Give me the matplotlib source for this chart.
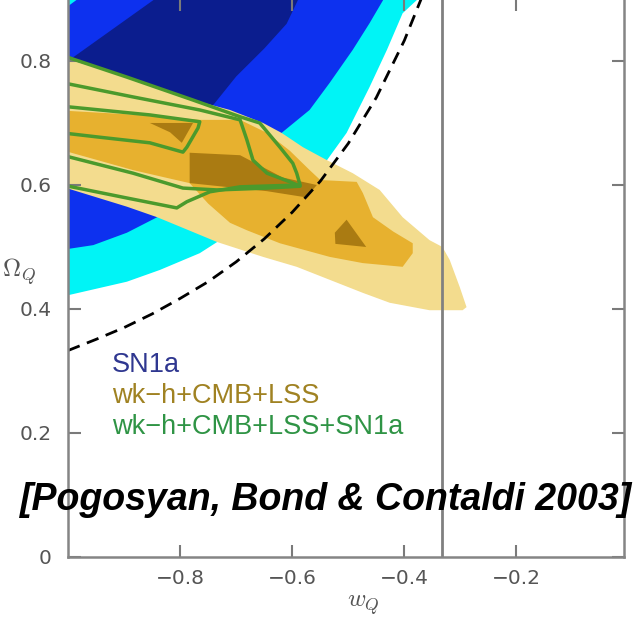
import matplotlib.pyplot as plt

# SN1a likelihood regions (w_Q, Omega_Q outlines), outermost first
sn3_w = [-1.05, -0.372, -0.372, -0.378, -0.403, -0.431, -0.462, -0.503, -0.538, -0.58, -0.64,
         -0.734, -0.765, -0.836, -0.895, -0.996, -1.05]
sn3_om = [0.95, 0.95, 0.91, 0.898, 0.877, 0.818, 0.758, 0.684, 0.640, 0.60, 0.568,
          0.508, 0.490, 0.463, 0.444, 0.423, 0.415]

sn2_w = [-1.05, -1.05, -0.975, -0.95, -0.438, -0.438, -0.462, -0.492, -0.533, -0.569, -0.619,
         -0.729, -0.841, -0.895, -0.955, -1.05]
sn2_om = [0.49, 0.855, 0.905, 0.95, 0.95, 0.898, 0.861, 0.818, 0.765, 0.721, 0.684,
          0.608, 0.548, 0.523, 0.503, 0.49]

sn1_w = [-1.0, -0.848, -0.77, -0.59, -0.59, -0.61, -0.65, -0.70, -0.74, -0.78, -0.90, -1.0]
sn1_om = [0.80, 0.898, 0.95, 0.95, 0.898, 0.86, 0.82, 0.775, 0.73, 0.70, 0.66, 0.66]

# wk-h+CMB+LSS regions
lss3_w = [-1.01, -0.895, -0.836, -0.777, -0.711, -0.652, -0.619, -0.581, -0.538, -0.492, -0.444,
          -0.403, -0.355, -0.332, -0.319, -0.301, -0.289, -0.296, -0.355, -0.426, -0.474,
          -0.533, -0.592, -0.652, -0.734, -0.841, -0.895, -1.01]
lss3_om = [0.806, 0.774, 0.756, 0.737, 0.721, 0.700, 0.684, 0.661, 0.640, 0.619, 0.592,
           0.548, 0.511, 0.50, 0.479, 0.435, 0.403, 0.398, 0.398, 0.41, 0.426,
           0.447, 0.468, 0.484, 0.508, 0.548, 0.565, 0.597]

lss2_w = [-1.01, -0.854, -0.765, -0.693, -0.645, -0.604, -0.57, -0.55, -0.485, -0.474, -0.456,
          -0.42, -0.385, -0.385, -0.403, -0.474, -0.533, -0.622, -0.681, -0.711, -0.75,
          -0.783, -0.884, -1.01]
lss2_om = [0.72, 0.712, 0.705, 0.705, 0.684, 0.655, 0.625, 0.608, 0.605, 0.587, 0.548,
           0.525, 0.506, 0.49, 0.468, 0.474, 0.484, 0.506, 0.527, 0.539, 0.57,
           0.603, 0.624, 0.656]

lss1a_w = [-0.854, -0.777, -0.797, -0.818]
lss1a_om = [0.70, 0.70, 0.668, 0.685]
lss1b_w = [-0.783, -0.693, -0.617, -0.556, -0.575, -0.645, -0.783]
lss1b_om = [0.652, 0.648, 0.612, 0.60, 0.58, 0.59, 0.603]
lss1c_w = [-0.503, -0.468, -0.523, -0.524]
lss1c_om = [0.544, 0.50, 0.505, 0.523]

# wk-h+CMB+LSS+SN1a contours
all1_w = [-1.01, -0.854, -0.765, -0.768, -0.788, -0.795, -0.854, -0.943, -1.01]
all1_om = [0.727, 0.713, 0.702, 0.692, 0.661, 0.653, 0.668, 0.677, 0.684]
all2_w = [-1.01, -0.884, -0.765, -0.693, -0.681, -0.670, -0.645, -0.604, -0.586,
          -0.645, -0.734, -0.795, -0.884, -1.01]
all2_om = [0.765, 0.742, 0.721, 0.705, 0.673, 0.640, 0.619, 0.605, 0.598,
           0.595, 0.592, 0.595, 0.619, 0.648]
all3_w = [-1.0, -0.991, -0.895, -0.777, -0.693, -0.658, -0.622, -0.599, -0.592, -0.586,
          -0.693, -0.747, -0.788, -0.806, -0.895, -1.01]
all3_om = [0.806, 0.803, 0.774, 0.737, 0.71, 0.70, 0.661, 0.635, 0.619, 0.60,
           0.597, 0.589, 0.573, 0.563, 0.579, 0.60]

# q0 = 0 boundary
q0_w = [-1.0, -0.95, -0.9, -0.85, -0.8, -0.75, -0.7, -0.65, -0.6, -0.55, -0.5, -0.45, -0.4, -0.37]
q0_om = [0.333, 0.351, 0.370, 0.392, 0.417, 0.444, 0.476, 0.513, 0.556, 0.606, 0.667, 0.741, 0.833, 0.90]
w_accel = -1 / 3

labels = ['SN1a', 'wk\u2212h+CMB+LSS', 'wk\u2212h+CMB+LSS+SN1a']
label_colors = ['#2f3790', '#a08222', '#2f9445']

fig = plt.figure(figsize=(6.34, 6.29), dpi=100)
ax = fig.add_axes([0.1073, 0.1145, 0.877, 0.8887])

ax.fill(sn3_w, sn3_om, color='#00f4f6', lw=0)
ax.fill(sn2_w, sn2_om, color='#0d31ef', lw=0)
ax.fill(sn1_w, sn1_om, color='#0b1d8e', lw=0)

ax.fill(lss3_w, lss3_om, color='#f3dc8e', lw=0)
ax.fill(lss2_w, lss2_om, color='#e7b12f', lw=0)
for w, om in [(lss1a_w, lss1a_om), (lss1b_w, lss1b_om), (lss1c_w, lss1c_om)]:
    ax.fill(w, om, color='#aa7b12', lw=0)

for w, om in [(all1_w, all1_om), (all2_w, all2_om), (all3_w, all3_om)]:
    ax.plot(w, om, color='#4b9a2c', lw=2.5, solid_joinstyle='round')

ax.plot(q0_w, q0_om, color='black', lw=2, dashes=(4.5, 2.8))
ax.axvline(w_accel, color='#808080', lw=2)

for i, (txt, c) in enumerate(zip(labels, label_colors)):
    ax.text(-0.922, 0.31 - i * 0.05, txt, color=c, fontsize=19.5,
            family='Liberation Sans', ha='left', va='center')

ax.set_xlim(-1, -0.008)
ax.set_ylim(0, 0.9016)
ax.set_xticks([-0.8, -0.6, -0.4, -0.2])
ax.set_yticks([0, 0.2, 0.4, 0.6, 0.8])
ax.set_yticklabels(['0', '0.2', '0.4', '0.6', '0.8'])
ax.tick_params(direction='in', top=True, right=True, length=9, width=1.5,
               color='#7a7a7a', labelcolor='#555555', labelsize=14.5)
ax.tick_params(axis='y', pad=12)
ax.tick_params(axis='x', pad=9)
for s in ax.spines.values():
    s.set_color('#858585')
    s.set_linewidth(1.8)

plt.rcParams['mathtext.fontset'] = 'cm'
fig.text(0.573, 0.038, r'$w_Q$', fontsize=18, color='#555555', ha='center', va='center')
fig.text(0.03, 1 - 272 / 629, r'$\Omega_Q$', fontsize=18, color='#555555', ha='center', va='center')

fig.text(0.514, 0.205, '[Pogosyan, Bond & Contaldi 2003]', fontsize=27, fontweight='bold',
         style='italic', family='Liberation Sans', color='black', ha='center', va='center')

fig.savefig('out.png', dpi=100)
